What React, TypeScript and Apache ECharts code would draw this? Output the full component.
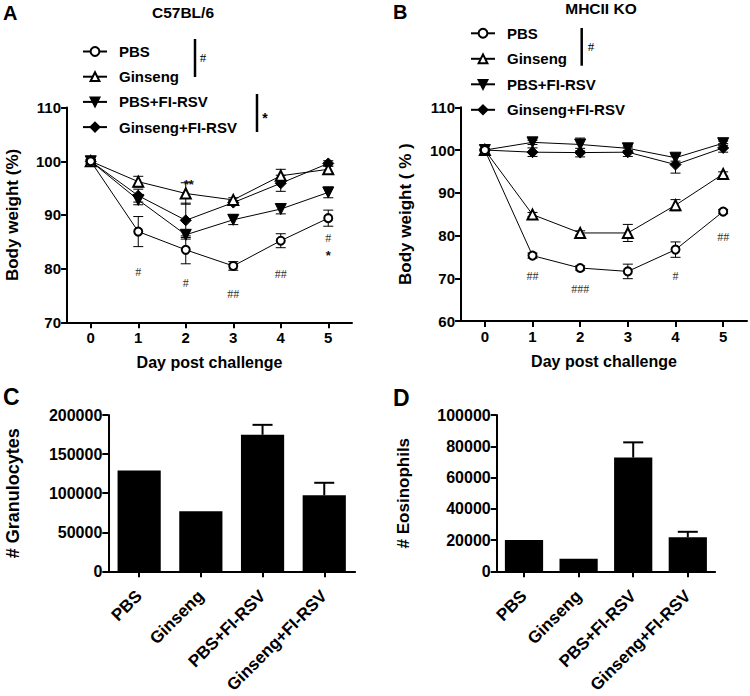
import React, { useEffect, useRef } from "react";
import * as echarts from "echarts";

const days = ["0", "1", "2", "3", "4", "5"];
const groups = ["PBS", "Ginseng", "PBS+FI-RSV", "Ginseng+FI-RSV"];

// Panel A (C57BL/6) body weight %
const aPBS = [100, 86.9, 83.5, 80.5, 85.2, 89.4];
const aPBSErr = [0.4, 2.8, 2.6, 0.8, 1.3, 1.5];
const aGinseng = [100, 96.2, 94.0, 92.8, 97.3, 98.5];
const aGinsengErr = [0.3, 1.0, 2.0, 0.4, 1.2, 0.6];
const aPBSFI = [100, 92.8, 86.3, 89.1, 91.1, 94.2];
const aPBSFIErr = [0.3, 0.9, 0.8, 0.9, 0.9, 1.0];
const aGinFI = [100, 93.6, 89.0, 92.3, 95.9, 99.6];
const aGinFIErr = [0.3, 1.2, 3.2, 0.4, 1.5, 0.5];

// Panel B (MHCII KO) body weight %
const bPBS = [100, 75.3, 72.4, 71.6, 76.7, 85.6];
const bPBSErr = [0.3, 0.6, 0.5, 1.7, 1.8, 0.5];
const bGinseng = [100, 84.9, 80.6, 80.6, 87.1, 94.4];
const bGinsengErr = [0.3, 0.5, 0.5, 2.0, 1.3, 0.5];
const bPBSFI = [100, 101.8, 101.3, 100.4, 98.2, 101.6];
const bPBSFIErr = [0.3, 0.5, 1.5, 0.5, 0.8, 0.5];
const bGinFI = [100, 99.5, 99.4, 99.5, 96.6, 100.5];
const bGinFIErr = [0.3, 1.0, 1.0, 1.0, 2.0, 1.0];

// significance marks [dayIndex, value, text]
const annADay = [1, 2, 3, 4, 5, 5, 2];
const annAVal = [79.4, 77.4, 75.3, 79.0, 85.7, 82.4, 95.6];
const annAText = ["#", "#", "##", "##", "#", "*", "**"];
const annBDay = [1, 2, 4, 5];
const annBVal = [70.6, 67.6, 70.6, 79.6];
const annBText = ["##", "###", "#", "##"];

// Panel C / D
const granulocytes = [129000, 77000, 174700, 97300];
const granulocytesErr = [0, 0, 12700, 16000];
const eosinophils = [20000, 8000, 72800, 21800];
const eosinophilsErr = [0, 0, 9700, 3500];

const FONT = "Liberation Sans";

function errRender(capHalf: number, lw: number, upOnly: boolean) {
  return (params: any, api: any) => {
    const i = api.value(0);
    const m = api.value(1);
    const e = api.value(2);
    if (!e) return null;
    const top = api.coord([i, m + e]);
    const bot = api.coord([i, upOnly ? m : m - e]);
    const st = { stroke: "#000", lineWidth: lw };
    const children: any[] = [
      { type: "line", shape: { x1: top[0], y1: top[1], x2: bot[0], y2: bot[1] }, style: st },
      { type: "line", shape: { x1: top[0] - capHalf, y1: top[1], x2: top[0] + capHalf, y2: top[1] }, style: st },
    ];
    if (!upOnly)
      children.push({ type: "line", shape: { x1: bot[0] - capHalf, y1: bot[1], x2: bot[0] + capHalf, y2: bot[1] }, style: st });
    return { type: "group", children };
  };
}

function annRender(texts: string[]) {
  return (params: any, api: any) => {
    const p = api.coord([api.value(0), api.value(1)]);
    const t = texts[params.dataIndex];
    const star = t.indexOf("*") >= 0;
    return {
      type: "text",
      x: p[0] + (t === "**" ? 3 : 0),
      y: p[1],
      style: {
        text: t,
        fill: star ? "#111" : "#333",
        font: star ? "bold 13px 'Liberation Sans'" : "12px 'Liberation Serif'",
        align: "center",
        verticalAlign: "middle",
      },
    };
  };
}

const symbols = ["circle", "triangle", "triangle", "diamond"];
const rotates = [0, 0, 180, 0];
const filled = [false, false, true, true];
const sizes = [8, 10, 11, 11];

function lineSeries(gi: number, k: number, data: number[]) {
  return {
    type: "line",
    name: groups[k],
    xAxisIndex: gi,
    yAxisIndex: gi,
    data,
    symbol: symbols[k],
    symbolRotate: rotates[k],
    symbolSize: sizes[k],
    showAllSymbol: true,
    lineStyle: { color: "#000", width: 1 },
    itemStyle: filled[k]
      ? { color: "#000", borderColor: "#000", borderWidth: 1 }
      : { color: "#fff", borderColor: "#000", borderWidth: 2 },
    z: 3,
  };
}

function errSeries(gi: number, mean: number[], err: number[], capHalf: number, lw: number, upOnly: boolean) {
  return {
    type: "custom",
    xAxisIndex: gi,
    yAxisIndex: gi,
    renderItem: errRender(capHalf, lw, upOnly),
    data: mean.map((m, i) => [i, m, err[i]]),
    z: upOnly ? 4 : 2,
    silent: true,
  };
}

function annSeries(gi: number, d: number[], v: number[], t: string[]) {
  return {
    type: "custom",
    xAxisIndex: gi,
    yAxisIndex: gi,
    renderItem: annRender(t),
    data: d.map((x, i) => [x, v[i]]),
    z: 5,
    silent: true,
  };
}

const axisLine = { show: true, lineStyle: { color: "#000", width: 2 } };
const axisTick = { show: true, length: 6, lineStyle: { color: "#000", width: 2 } };

function xCat(gi: number, data: string[], fs: number, extra: any, labelExtra: any = {}) {
  return {
    type: "category",
    gridIndex: gi,
    data,
    boundaryGap: true,
    axisLine,
    axisTick: { ...axisTick, alignWithLabel: true, interval: 0 },
    axisLabel: { color: "#000", fontSize: fs, fontWeight: "bold", fontFamily: FONT, interval: 0, margin: 8, ...labelExtra },
    ...extra,
  };
}

function yVal(gi: number, min: number, max: number, interval: number, fs: number, name: string, nameGap: number, nfs: number) {
  return {
    type: "value",
    gridIndex: gi,
    min,
    max,
    interval,
    splitLine: { show: false },
    axisLine,
    axisTick,
    axisLabel: {
      color: "#000",
      fontSize: fs,
      fontWeight: "bold",
      fontFamily: FONT,
      margin: 6,
      formatter: (v: number) => String(v),
    },
    name,
    nameLocation: "middle",
    nameGap,
    nameRotate: 90,
    nameTextStyle: { color: "#000", fontSize: nfs, fontWeight: "bold", fontFamily: FONT },
  };
}

function txt(x: number, y: number, text: string, size: number, align = "left", bold = true, family = FONT) {
  return {
    type: "text",
    x,
    y,
    style: {
      text,
      fill: "#000",
      font: `${bold ? "bold " : ""}${size}px '${family}'`,
      align,
      verticalAlign: "middle",
    },
  };
}
function vline(x: number, y1: number, y2: number) {
  return { type: "line", shape: { x1: x, y1, x2: x, y2 }, style: { stroke: "#000", lineWidth: 2.5 } };
}

export default function App() {
  const ref = useRef<HTMLDivElement>(null);
  useEffect(() => {
    if (!ref.current) return;
    const chart = echarts.init(ref.current, null, { renderer: "svg" });
    const legendCommon = {
      orient: "vertical",
      selectedMode: false,
      data: groups,
      padding: 0,
      itemWidth: 24,
      itemHeight: 11,
      textStyle: { color: "#000", fontSize: 15, fontWeight: "bold", fontFamily: FONT, padding: [0, 0, 0, 7] },
    };
    const dayName = {
      name: "Day post challenge",
      nameLocation: "middle",
      nameGap: 32,
      nameTextStyle: { color: "#000", fontSize: 16, fontWeight: "bold", fontFamily: FONT },
    };
    const option: any = {
      animation: false,
      backgroundColor: "#fff",
      textStyle: { fontFamily: FONT },
      grid: [
        { left: 67, top: 107.6, width: 285, height: 214.7 },
        { left: 461, top: 107.3, width: 286, height: 213.7 },
        { left: 108.3, top: 415, width: 246.8, height: 157.7 },
        { left: 496.7, top: 415, width: 218.4, height: 157.7 },
      ],
      legend: [
        { ...legendCommon, left: 82, top: 44, itemGap: 10.2 },
        { ...legendCommon, left: 470, top: 25.8, itemGap: 10.5 },
      ],
      xAxis: [
        xCat(0, days, 15, dayName),
        xCat(1, days, 15, dayName),
        xCat(2, groups, 17, {}, { rotate: 45, margin: 22 }),
        xCat(3, groups, 17, {}, { rotate: 45, margin: 22 }),
      ],
      yAxis: [
        yVal(0, 70, 110, 10, 15, "Body weight (%)", 46, 17),
        yVal(1, 60, 110, 10, 15, "Body weight ( % )", 47, 17),
        yVal(2, 0, 200000, 50000, 16, "# Granulocytes", 86, 18),
        yVal(3, 0, 100000, 20000, 16, "# Eosinophils", 85, 17),
      ],
      graphic: [
        txt(3, 13, "A", 20),
        txt(183, 12.5, "C57BL/6", 15.5, "center"),
        txt(393, 12, "B", 20),
        txt(601, 8.7, "MHCII KO", 15.5, "center"),
        txt(3, 397, "C", 23),
        txt(393, 398, "D", 23),
        vline(195, 39, 77),
        txt(203, 57, "#", 13, "center", false, "Liberation Serif"),
        vline(257, 94, 132),
        txt(265, 118, "*", 14, "center", true, FONT),
        vline(581.7, 28, 65.7),
        txt(591, 46, "#", 13, "center", false, "Liberation Serif"),
      ],
      series: [
        errSeries(0, aPBS, aPBSErr, 5, 1, false),
        errSeries(0, aGinseng, aGinsengErr, 5, 1, false),
        errSeries(0, aPBSFI, aPBSFIErr, 5, 1, false),
        errSeries(0, aGinFI, aGinFIErr, 5, 1, false),
        lineSeries(0, 3, aGinFI),
        lineSeries(0, 2, aPBSFI),
        lineSeries(0, 1, aGinseng),
        lineSeries(0, 0, aPBS),
        annSeries(0, annADay, annAVal, annAText),
        errSeries(1, bPBS, bPBSErr, 5, 1, false),
        errSeries(1, bGinseng, bGinsengErr, 5, 1, false),
        errSeries(1, bPBSFI, bPBSFIErr, 5, 1, false),
        errSeries(1, bGinFI, bGinFIErr, 5, 1, false),
        lineSeries(1, 3, bGinFI),
        lineSeries(1, 2, bPBSFI),
        lineSeries(1, 1, bGinseng),
        lineSeries(1, 0, bPBS),
        annSeries(1, annBDay, annBVal, annBText),
        {
          type: "bar",
          xAxisIndex: 2,
          yAxisIndex: 2,
          data: granulocytes,
          barWidth: "70%",
          itemStyle: { color: "#000" },
        },
        errSeries(2, granulocytes, granulocytesErr, 10, 2, true),
        {
          type: "bar",
          xAxisIndex: 3,
          yAxisIndex: 3,
          data: eosinophils,
          barWidth: "70%",
          itemStyle: { color: "#000" },
        },
        errSeries(3, eosinophils, eosinophilsErr, 10, 2, true),
      ],
    };
    chart.setOption(option);
    return () => chart.dispose();
  }, []);
  return <div ref={ref} style={{ position: "absolute", left: 0, top: 0, width: 750, height: 696 }} />;
}
